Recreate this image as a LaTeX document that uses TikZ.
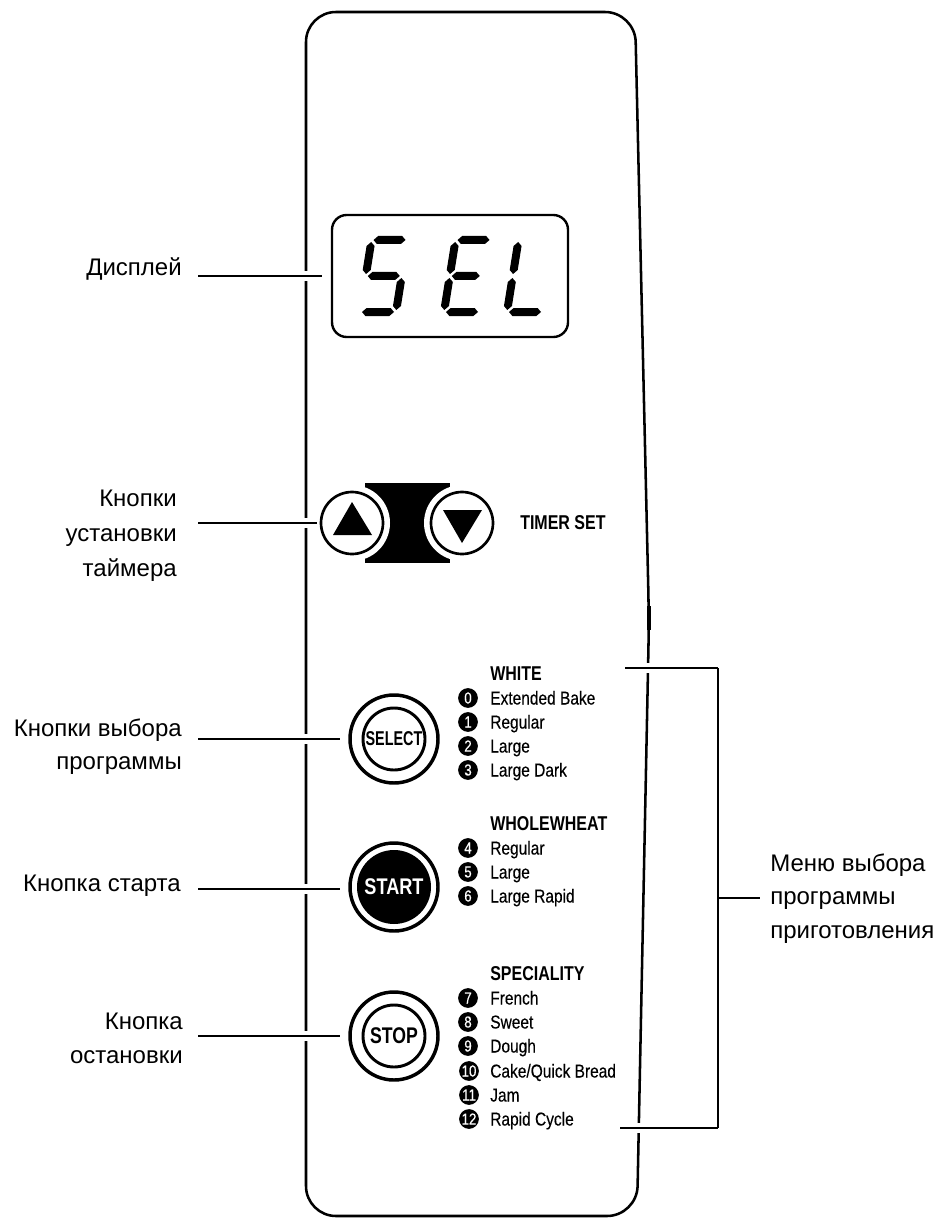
\documentclass[tikz,border=0pt]{standalone}
\usepackage{fontspec}
\setmainfont{Liberation Sans}
\newfontfamily\condR{Liberation Sans}[FakeStretch=0.83,FakeBold=0.3]
\newfontfamily\condS{Liberation Sans}[FakeStretch=0.72]
\newfontfamily\condT{Liberation Sans}[FakeStretch=0.80]
\newfontfamily\condU{Liberation Sans}[FakeStretch=0.78]
\def\segk{0.16}
\def\segb{312}
\def\dgx{0}
\def\sh{4}
\newcommand\hseg[3]{\fill
 ({\dgx+(#1)+\segk*(#3)},{\segb-(#3)}) --
 ({\dgx+(#1)+\sh+\segk*((#3)+\sh)},{\segb-(#3)-\sh}) --
 ({\dgx+(#2)-\sh+\segk*((#3)+\sh)},{\segb-(#3)-\sh}) --
 ({\dgx+(#2)+\segk*(#3)},{\segb-(#3)}) --
 ({\dgx+(#2)-\sh+\segk*((#3)-\sh)},{\segb-(#3)+\sh}) --
 ({\dgx+(#1)+\sh+\segk*((#3)-\sh)},{\segb-(#3)+\sh}) -- cycle;}
\newcommand\vseg[3]{\fill
 ({\dgx+(#1)+\segk*(#2)},{\segb-(#2)}) --
 ({\dgx+(#1)+\sh+\segk*((#2)+\sh)},{\segb-(#2)-\sh}) --
 ({\dgx+(#1)+\sh+\segk*((#3)-\sh)},{\segb-(#3)+\sh}) --
 ({\dgx+(#1)+\segk*(#3)},{\segb-(#3)}) --
 ({\dgx+(#1)-\sh+\segk*((#3)-\sh)},{\segb-(#3)+\sh}) --
 ({\dgx+(#1)-\sh+\segk*((#2)+\sh)},{\segb-(#2)-\sh}) -- cycle;}
\begin{document}
\begin{tikzpicture}[x=0.75pt,y=-0.75pt,
  lbl/.style={anchor=base east,inner sep=0pt,font=\fontsize{18}{22}\selectfont},
  lblr/.style={anchor=base west,inner sep=0pt,font=\fontsize{18}{22}\selectfont},
  lead/.style={line width=1pt,preaction={draw=white,line width=8pt}},
  panel/.style={line width=1.9pt,rounded corners=22.5pt},
  num/.style={circle,fill=black,inner sep=0pt,minimum size=14.8pt,text=white,font=\condR\fontsize{12}{12}\selectfont},
  item/.style={anchor=base west,inner sep=0pt,font=\condR\fontsize{14}{14}\selectfont},
  head/.style={anchor=base west,inner sep=0pt,font=\condT\bfseries\fontsize{15}{15}\selectfont},
  tbtn/.style={circle,draw,fill=white,line width=2pt,minimum size=46.5pt,inner sep=0pt},
  ring/.style={circle,draw,line width=2.6pt,minimum size=66pt,inner sep=0pt},
  iring/.style={circle,draw,line width=2.2pt,minimum size=46.5pt,inner sep=0pt}]
\useasboundingbox (0,0) rectangle (941,1219);
% panel
\draw[panel] (306,12) -- (635,12) -- (649,620) -- (637,1216) -- (306,1216) -- cycle;
\draw[line width=3pt] (648.6,606) -- (648.6,630);
% display
\node[draw,rounded corners=11pt,line width=1.8pt,minimum width=177pt,minimum height=91.5pt,inner sep=0pt] (disp) at (450,276) {};
\def\dgx{360}
\hseg{2}{34}{72}\vseg{0}{38}{70}\hseg{2}{34}{36}\vseg{36}{2}{34}\hseg{2}{34}{0}
\def\dgx{444}
\hseg{2}{34}{72}\vseg{0}{38}{70}\hseg{2}{30}{36}\vseg{0}{2}{34}\hseg{2}{34}{0}
\def\dgx{507}
\vseg{0}{38}{70}\vseg{0}{2}{34}\hseg{2}{34}{0}
% timer buttons
\fill (365,483) rectangle (450,563);
\fill[white] (352,523) circle (38);
\fill[white] (462,523) circle (38);
\node[tbtn] (up) at (352,523) {};
\node[tbtn] (down) at (462,523) {};
\fill (352,502) -- (333,535) -- (372,535) -- cycle;
\fill (443,510) -- (482,510) -- (462,543) -- cycle;
\node[anchor=west,inner sep=0pt,font=\condT\bfseries\fontsize{15}{15}\selectfont] (timerset) at (520,523) {TIMER SET};
% program buttons
\node[ring] (selring) at (394,739) {};
\node[iring,font=\condS\bfseries\fontsize{15}{15}\selectfont] (sel) at (394,739) {SELECT};
\node[ring] (startring) at (394,887) {};
\node[circle,fill=black,minimum size=55.5pt,inner sep=0pt,text=white,font=\condT\bfseries\fontsize{17}{17}\selectfont] (start) at (394,887) {START};
\node[ring] (stopring) at (394,1036) {};
\node[iring,font=\condU\bfseries\fontsize{17}{17}\selectfont] (stop) at (394,1036) {STOP};
% menu
\node[head] (hwhite) at (490,680) {WHITE};
\node[num] (n0) at (468,698) {0};  \node[item] (t0) at (490,704.5) {Extended Bake};
\node[num] (n1) at (468,722) {1};  \node[item] (t1) at (490,728.5) {Regular};
\node[num] (n2) at (468,746) {2};  \node[item] (t2) at (490,752.5) {Large};
\node[num] (n3) at (468,770) {3};  \node[item] (t3) at (490,776.5) {Large Dark};
\node[head] (hwhole) at (490,830) {WHOLEWHEAT};
\node[num] (n4) at (468,848) {4};  \node[item] (t4) at (490,854.5) {Regular};
\node[num] (n5) at (468,872) {5};  \node[item] (t5) at (490,878.5) {Large};
\node[num] (n6) at (468,896) {6};  \node[item] (t6) at (490,902.5) {Large Rapid};
\node[head] (hspec) at (490,980) {SPECIALITY};
\node[num] (n7) at (468,998) {7};  \node[item] (t7) at (490,1004.5) {French};
\node[num] (n8) at (468,1022) {8}; \node[item] (t8) at (490,1028.5) {Sweet};
\node[num] (n9) at (468,1046) {9}; \node[item] (t9) at (490,1052.5) {Dough};
\node[num] (n10) at (469,1071) {10}; \node[item] (t10) at (490,1077.5) {Cake/Quick Bread};
\node[num] (n11) at (469,1095) {11}; \node[item] (t11) at (490,1101.5) {Jam};
\node[num] (n12) at (469,1119) {12}; \node[item] (t12) at (490,1125.5) {Rapid Cycle};
% left labels
\node[lbl] (ldisp) at (182,276) {Дисплей};
\node[lbl] (ltim1) at (177,506) {Кнопки};
\node[lbl] (ltim2) at (177,541) {установки};
\node[lbl] (ltim3) at (177,576) {таймера};
\node[lbl] (lsel1) at (182,736) {Кнопки выбора};
\node[lbl] (lsel2) at (182,769) {программы};
\node[lbl] (lstart) at (181,891) {Кнопка старта};
\node[lbl] (lstop1) at (183,1029) {Кнопка};
\node[lbl] (lstop2) at (183,1063) {остановки};
% right label
\node[lblr] (lmen1) at (770,871) {Меню выбора};
\node[lblr] (lmen2) at (770,904) {программы};
\node[lblr] (lmen3) at (770,938) {приготовления};
% leader coordinates
\coordinate (a1) at (198,276);  \coordinate (b1) at (322,276);
\coordinate (a2) at (198,523);  \coordinate (b2) at (317,523);
\coordinate (a3) at (198,739);  \coordinate (b3) at (340,739);
\coordinate (a4) at (198,889);  \coordinate (b4) at (340,889);
\coordinate (a5) at (198,1036); \coordinate (b5) at (340,1036);
\coordinate (bt1) at (625,668); \coordinate (bt2) at (718,668);
\coordinate (bb1) at (620,1128); \coordinate (bb2) at (718,1128);
\coordinate (bm) at (718,898); \coordinate (bmr) at (760,898);
\draw[lead] (a1) -- (b1);
\draw[lead] (a2) -- (b2);
\draw[lead] (a3) -- (b3);
\draw[lead] (a4) -- (b4);
\draw[lead] (a5) -- (b5);
\draw[lead] (bt1) -- (bt2);
\draw[lead] (bb1) -- (bb2);
\draw[line width=1pt] (bt2) -- (bb2);
\draw[line width=1pt] (bm) -- (bmr);
\end{tikzpicture}
\end{document}
